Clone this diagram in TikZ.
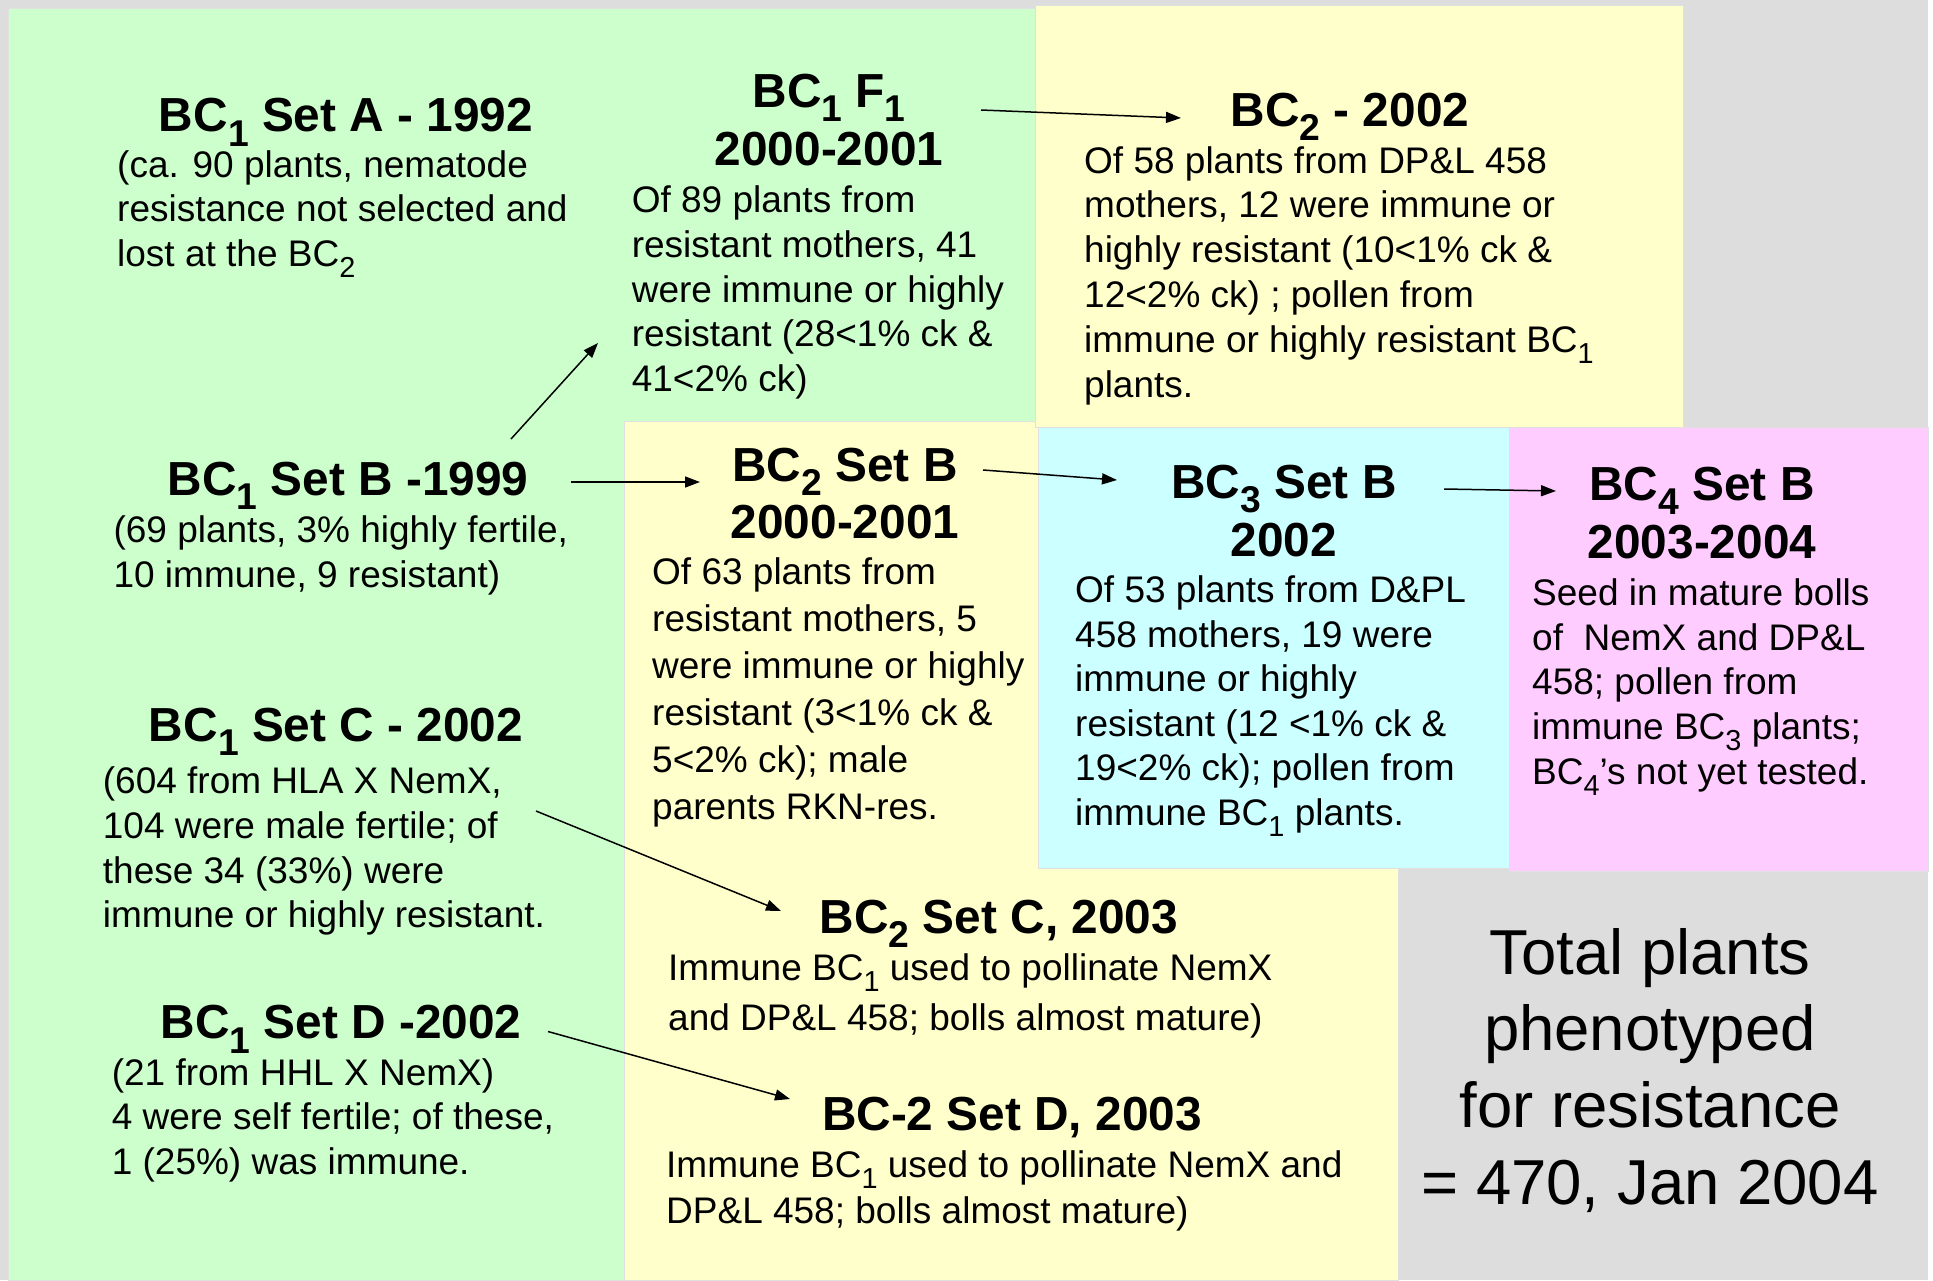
\documentclass[tikz,border=0pt]{standalone}
\usepackage{fontspec}
\setmainfont{Liberation Sans}
\usetikzlibrary{arrows.meta}
\newcommand{\subx}[1]{\raisebox{-0.3em}{\scalebox{0.78}{#1}}}
\definecolor{bggray}{HTML}{DDDDDD}
\definecolor{pgreen}{HTML}{CCFFCC}
\definecolor{pyellow}{HTML}{FFFFCC}
\definecolor{pcyan}{HTML}{CCFFFF}
\definecolor{ppink}{HTML}{FFCCFF}
% multi-line nodes are anchored at the baseline of their LAST line
\tikzset{
  head/.style={font=\fontsize{47.8}{57.5}\selectfont\bfseries, align=center, anchor=base, inner sep=0pt},
  body/.style={font=\fontsize{37}{44.8}\selectfont, align=left, anchor=base west, inner sep=0pt},
  big/.style={font=\fontsize{63.5}{76.7}\selectfont, align=center, anchor=base, inner sep=0pt},
  arr/.style={-{Triangle[length=15pt,width=11pt]}, line width=1.5pt},
  panel/.style={draw=black!12, line width=0.8pt},
}
\begin{document}
\begin{tikzpicture}[x=1pt,y=-1pt]
\useasboundingbox (0,0) rectangle (1933,1280);
\fill[white] (0,0) rectangle (1933,1280);
\fill[bggray] (0,0) rectangle (1928,1280);
% panels
\path[panel, fill=pgreen] (8,8) rectangle (1036,1280);
\path[panel, fill=pyellow] (624.7,421.7) rectangle (1398,1280);
\path[panel, fill=pyellow] (1035,5) rectangle (1683,427);
\path[panel, fill=pcyan] (1038,427) rectangle (1509,868);
\path[panel, fill=ppink] (1509,427) rectangle (1928,871);

% left column
\node[head] (hA) at (346,131.7) {BC\subx{1} Set A - 1992};
\node[body] (tA) at (117,266.6) {(ca. 90 plants, nematode\\resistance not selected and\\lost at the BC\subx{2}};
\node[head] (hB) at (348,495.6) {BC\subx{1} Set B -1999};
\node[body, font=\fontsize{37}{45.5}\selectfont] (tB) at (113.4,587.5) {(69 plants, 3\% highly fertile,\\10 immune, 9 resistant)};
\node[head] (hC) at (336,741.6) {BC\subx{1} Set C - 2002};
\node[body] (tC) at (102.7,927.8) {(604 from HLA X NemX,\\104 were male fertile; of\\these 34 (33\%) were\\immune or highly resistant.};
\node[head] (hD) at (341,1038.8) {BC\subx{1} Set D -2002};
\node[body, font=\fontsize{37}{44.2}\selectfont] (tD) at (111.6,1174.1) {(21 from HHL X NemX)\\4 were self fertile; of these,\\1 (25\%) was immune.};

% BC1 F1
\node[head] (hF) at (829,165) {BC\subx{1} F\subx{1}\\2000-2001};
\node[body] (tF) at (631.6,391.7) {Of 89 plants from\\resistant mothers, 41\\were immune or highly\\resistant (28<1\% ck \&\\41<2\% ck)};

% BC2 - 2002
\node[head] (hE) at (1350,126) {BC\subx{2} - 2002};
\node[body] (tE) at (1084,397) {Of 58 plants from DP\&L 458\\mothers, 12 were immune or\\highly resistant (10<1\% ck \&\\12<2\% ck) ; pollen from\\immune or highly resistant BC\subx{1}\\plants.};

% BC2 Set B
\node[head] (hG) at (845,538.7) {BC\subx{2} Set B\\2000-2001};
\node[body, font=\fontsize{37}{47}\selectfont] (tG) at (652,819) {Of 63 plants from\\resistant mothers, 5\\were immune or highly\\resistant (3<1\% ck \&\\5<2\% ck); male\\parents RKN-res.};

% BC3 Set B
\node[head] (hH) at (1284,556) {BC\subx{3} Set B\\2002};
\node[body, font=\fontsize{37}{44.6}\selectfont] (tH) at (1075,825.5) {Of 53 plants from D\&PL\\458 mothers, 19 were\\immune or highly\\resistant (12 <1\% ck \&\\19<2\% ck); pollen from\\immune BC\subx{1} plants.};

% BC4 Set B
\node[head] (hI) at (1702,558) {BC\subx{4} Set B\\2003-2004};
\node[body, font=\fontsize{37}{44.6}\selectfont] (tI) at (1532,784.1) {Seed in mature bolls\\of \ NemX and DP\&L\\458; pollen from\\immune BC\subx{3} plants;\\BC\subx{4}’s not yet tested.};

% BC2 Set C
\node[head] (hJ) at (999,933.3) {BC\subx{2} Set C, 2003};
\node[body, font=\fontsize{37}{50}\selectfont] (tJ) at (668,1030) {Immune BC\subx{1} used to pollinate NemX\\and DP\&L 458; bolls almost mature)};

% BC-2 Set D
\node[head] (hK) at (1012,1130) {BC-2 Set D, 2003};
\node[body, font=\fontsize{37}{46}\selectfont] (tK) at (666,1223) {Immune BC\subx{1} used to pollinate NemX and\\DP\&L 458; bolls almost mature)};

% total
\node[big] (tot) at (1650,1204.1) {Total plants\\phenotyped\\for resistance\\= 470, Jan 2004};

% arrow end points
\coordinate (b1s) at (511,439);   \coordinate (b1e) at (598,343);
\coordinate (f1s) at (981,110);   \coordinate (f1e) at (1181,118);
\coordinate (b2s) at (571,482);   \coordinate (b2e) at (700,482);
\coordinate (g1s) at (983,470);   \coordinate (g1e) at (1117,480);
\coordinate (c3s) at (1444,489);  \coordinate (c3e) at (1556,491);
\coordinate (c1s) at (536,811);   \coordinate (c1e) at (781,911);
\coordinate (d1s) at (548,1031.5);\coordinate (d1e) at (790,1099);

\draw[arr] (b1s) -- (b1e);
\draw[arr] (f1s) -- (f1e);
\draw[arr] (b2s) -- (b2e);
\draw[arr] (g1s) -- (g1e);
\draw[arr] (c3s) -- (c3e);
\draw[arr] (c1s) -- (c1e);
\draw[arr] (d1s) -- (d1e);
\end{tikzpicture}
\end{document}
